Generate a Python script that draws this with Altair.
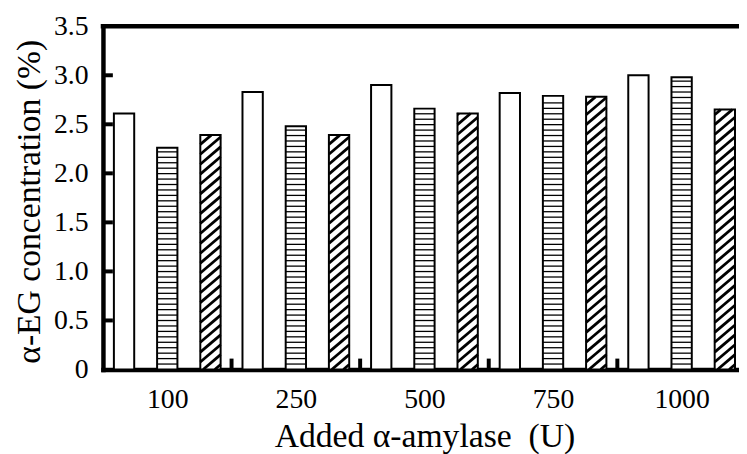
import altair as alt
import pandas as pd

# ---- data ----
categories = ["100", "250", "500", "750", "1000"]
series = ["open", "striped", "hatched"]
open_vals = [2.61, 2.83, 2.90, 2.82, 3.00]
striped_vals = [2.26, 2.48, 2.66, 2.79, 2.98]
hatched_vals = [2.39, 2.39, 2.61, 2.78, 2.65]
y_ticks = [0, 0.5, 1.0, 1.5, 2.0, 2.5, 3.0, 3.5]

# ---- layout (pixels) ----
W, H = 643, 347
GROUP_PX = 130.0
XMAX = W / GROUP_PX
YMAX = 3.5
KX = GROUP_PX
KY = H / YMAX
SPACING = 0.336     # distance between bar centres, in group units
BW = 0.158          # bar width, in group units
FONT = "Liberation Serif"

rows = []
for si, vals in enumerate([open_vals, striped_vals, hatched_vals]):
    for gi, v in enumerate(vals):
        pos = gi + 0.5 + (si - 1) * SPACING
        rows.append({"cat": categories[gi], "series": series[si], "value": v,
                     "xl": pos - BW / 2, "xr": pos + BW / 2})
bars = pd.DataFrame(rows)

# horizontal stripes (pattern of the 2nd series)
STRIPE_PX = 5.5
stripe_rows = []
for r in rows:
    if r["series"] != "striped":
        continue
    k = 1
    while k * STRIPE_PX < r["value"] * KY - 2:
        stripe_rows.append({"xl": r["xl"], "xr": r["xr"], "y": k * STRIPE_PX / KY})
        k += 1
stripes = pd.DataFrame(stripe_rows)

# diagonal hatching (pattern of the 3rd series)
HATCH_PX = 10.0
SLOPE = 0.85
hatch_rows = []
for r in rows:
    if r["series"] != "hatched":
        continue
    wpx = (r["xr"] - r["xl"]) * KX
    hpx = r["value"] * KY
    b = -wpx * SLOPE + HATCH_PX / 2
    while b < hpx:
        xa = max(0.0, -b / SLOPE)
        xb = min(wpx, (hpx - b) / SLOPE)
        if xb > xa:
            hatch_rows.append({"x": r["xl"] + xa / KX, "x2": r["xl"] + xb / KX,
                               "y": (xa * SLOPE + b) / KY, "y2": (xb * SLOPE + b) / KY})
        b += HATCH_PX
hatch = pd.DataFrame(hatch_rows)

xscale = alt.Scale(domain=[0, XMAX], nice=False, zero=False)
yscale = alt.Scale(domain=[0, YMAX], nice=False)

label_expr = f"{categories}[floor(datum.value)]"

x_axis = alt.Axis(values=[i + 0.5 for i in range(len(categories))], labelExpr=label_expr,
                  ticks=False, grid=False, domainWidth=4.5, domainColor="black", domainCap="square",
                  labelFont=FONT, labelFontSize=28, labelColor="black", labelPadding=16,
                  labelFlush=False, labelOverlap=False,
                  title="Added α-amylase\u00a0 (U)", titleFont=FONT, titleFontSize=34,
                  titleFontWeight="normal", titleColor="black",
                  titleX=325, titleY=78, titleBaseline="alphabetic", titleAlign="center")
y_axis = alt.Axis(values=y_ticks, labelExpr="datum.value == 0 ? '0' : format(datum.value, '.1f')",
                  ticks=False, grid=False, domainWidth=4.5, domainColor="black", domainCap="square",
                  labelFont=FONT, labelFontSize=28, labelColor="black", labelPadding=15,
                  labelBaseline="middle",
                  title="α-EG concentration (%)", titleFont=FONT, titleFontSize=34,
                  titleFontWeight="normal", titleColor="black",
                  titleX=-64, titleY=177, titleBaseline="alphabetic", titleAlign="center", titleAngle=270)

base_fill = alt.Chart(bars).mark_bar(fill="white", strokeWidth=0).encode(
    x=alt.X("xl:Q", scale=xscale, axis=x_axis),
    x2="xr:Q",
    y=alt.Y("value:Q", scale=yscale, axis=y_axis),
    y2=alt.datum(0),
)

stripe_layer = alt.Chart(stripes).mark_rule(color="black", strokeWidth=1.3).encode(
    x=alt.X("xl:Q", scale=xscale, axis=x_axis),
    x2="xr:Q",
    y=alt.Y("y:Q", scale=yscale, axis=y_axis),
)

hatch_layer = alt.Chart(hatch).mark_rule(color="black", strokeWidth=2.8).encode(
    x=alt.X("x:Q", scale=xscale, axis=x_axis),
    x2="x2:Q",
    y=alt.Y("y:Q", scale=yscale, axis=y_axis),
    y2="y2:Q",
)

outline = alt.Chart(bars).mark_bar(fillOpacity=0, stroke="black", strokeWidth=2).encode(
    x=alt.X("xl:Q", scale=xscale, axis=x_axis),
    x2="xr:Q",
    y=alt.Y("value:Q", scale=yscale, axis=y_axis),
    y2=alt.datum(0),
)

# inward ticks on the y axis
ytick_df = pd.DataFrame({"t": y_ticks[1:-1]})
ytick_layer = alt.Chart(ytick_df).mark_rule(color="black", strokeWidth=4).encode(
    y=alt.Y("t:Q", scale=yscale, axis=y_axis),
    x=alt.value(0),
    x2=alt.value(10),
)

# inward ticks between groups on the x axis
xtick_df = pd.DataFrame({"b": list(range(1, len(categories)))})
xtick_layer = alt.Chart(xtick_df).mark_rule(color="black", strokeWidth=4).encode(
    x=alt.X("b:Q", scale=xscale, axis=x_axis),
    y=alt.value(H),
    y2=alt.value(H - 11),
)

# top frame line
top_layer = alt.Chart(pd.DataFrame({"a": [0]})).mark_rule(color="black", strokeWidth=4.5).encode(
    x=alt.value(-2.25),
    x2=alt.value(W),
    y=alt.value(0),
)

chart = alt.layer(
    base_fill, stripe_layer, hatch_layer, outline, ytick_layer, xtick_layer, top_layer
).properties(
    width=W, height=H,
    autosize=alt.AutoSizeParams(type="none"),
    padding={"left": 96, "top": 16, "right": 0, "bottom": 83},
    background="white",
).configure_view(stroke=None)

chart.save("out.html", embed_options={"renderer": "svg", "actions": False})
